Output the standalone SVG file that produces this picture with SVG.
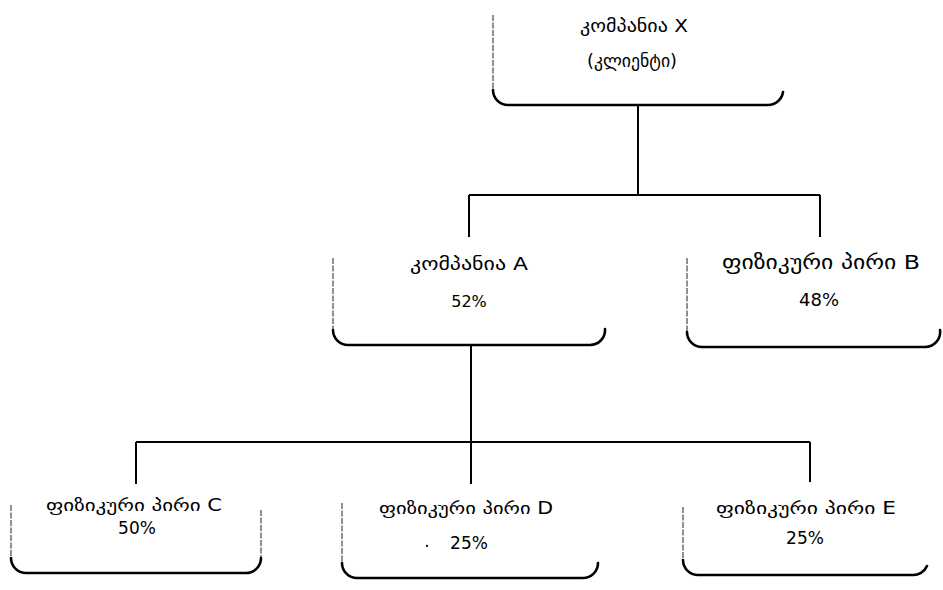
<svg xmlns="http://www.w3.org/2000/svg" width="943" height="590" viewBox="0 0 943 590">
<style>
.side{fill:none;stroke:#222;stroke-width:1;stroke-dasharray:6 1.5}
.bot{fill:none;stroke:#000;stroke-width:2.6;stroke-linecap:round}
.con{fill:none;stroke:#000;stroke-width:2}
text{font-family:"DejaVu Sans","Noto Sans",sans-serif;font-size:17px;fill:#000;text-anchor:middle;dominant-baseline:central}
.ka{font-size:18px}
.pc{font-size:17px}
</style>
<rect width="943" height="590" fill="#fff"/>
<g id="connectors">
<path class="con" d="M638,105 V195 M469,195 H820 M469,195 V237 M820,195 V237"/>
<path class="con" d="M471,345 V442 M136,442 H810 M136,442 V484 M471,442 V484 M810,442 V482"/>
</g>
<g id="nodeX">
<path class="side" d="M493,15 V92"/>
<path class="bot" d="M493,90 A15,15 0 0 0 508,105 H768 A15,15 0 0 0 783,92"/>
<text class="ka" x="634" y="25" textLength="108" lengthAdjust="spacingAndGlyphs">კომპანია X</text>
<text class="ka" x="632" y="60" textLength="90" lengthAdjust="spacingAndGlyphs">(კლიენტი)</text>
</g>
<g id="nodeA">
<path class="side" d="M333,258 V332"/>
<path class="bot" d="M333,330 A15,15 0 0 0 348,345 H590 A15,15 0 0 0 605,329"/>
<text class="ka" x="469" y="263" textLength="118" lengthAdjust="spacingAndGlyphs">კომპანია A</text>
<text class="pc" x="469" y="301" style="font-size:16px">52%</text>
</g>
<g id="nodeB">
<path class="side" d="M687,258 V334"/>
<path class="bot" d="M687,332 A15,15 0 0 0 702,347 H925 A15,15 0 0 0 940,330"/>
<text class="ka" x="821" y="262" style="font-size:19px" textLength="198" lengthAdjust="spacingAndGlyphs">ფიზიკური პირი B</text>
<text class="pc" x="819" y="299" style="font-size:18px">48%</text>
</g>
<g id="nodeC">
<path class="side" d="M11,505 V560 M261,510 V558"/>
<path class="bot" d="M11,558 A15,15 0 0 0 26,573 H246 A15,15 0 0 0 261,558"/>
<text x="134" y="505" textLength="176" lengthAdjust="spacingAndGlyphs">ფიზიკური პირი C</text>
<text class="pc" x="137" y="528">50%</text>
</g>
<g id="nodeD">
<path class="side" d="M342,503 V565"/>
<path class="bot" d="M342,563 A15,15 0 0 0 357,578 H583 A15,15 0 0 0 598,563"/>
<text x="466" y="508" textLength="174" lengthAdjust="spacingAndGlyphs">ფიზიკური პირი D</text>
<text class="pc" x="427" y="541">.</text>
<text class="pc" x="469" y="543">25%</text>
</g>
<g id="nodeE">
<path class="side" d="M683,507 V562"/>
<path class="bot" d="M683,560 A15,15 0 0 0 698,575 H912 A15,15 0 0 0 927,566"/>
<text x="806" y="508" textLength="180" lengthAdjust="spacingAndGlyphs">ფიზიკური პირი E</text>
<text class="pc" x="805" y="538">25%</text>
</g>
</svg>
